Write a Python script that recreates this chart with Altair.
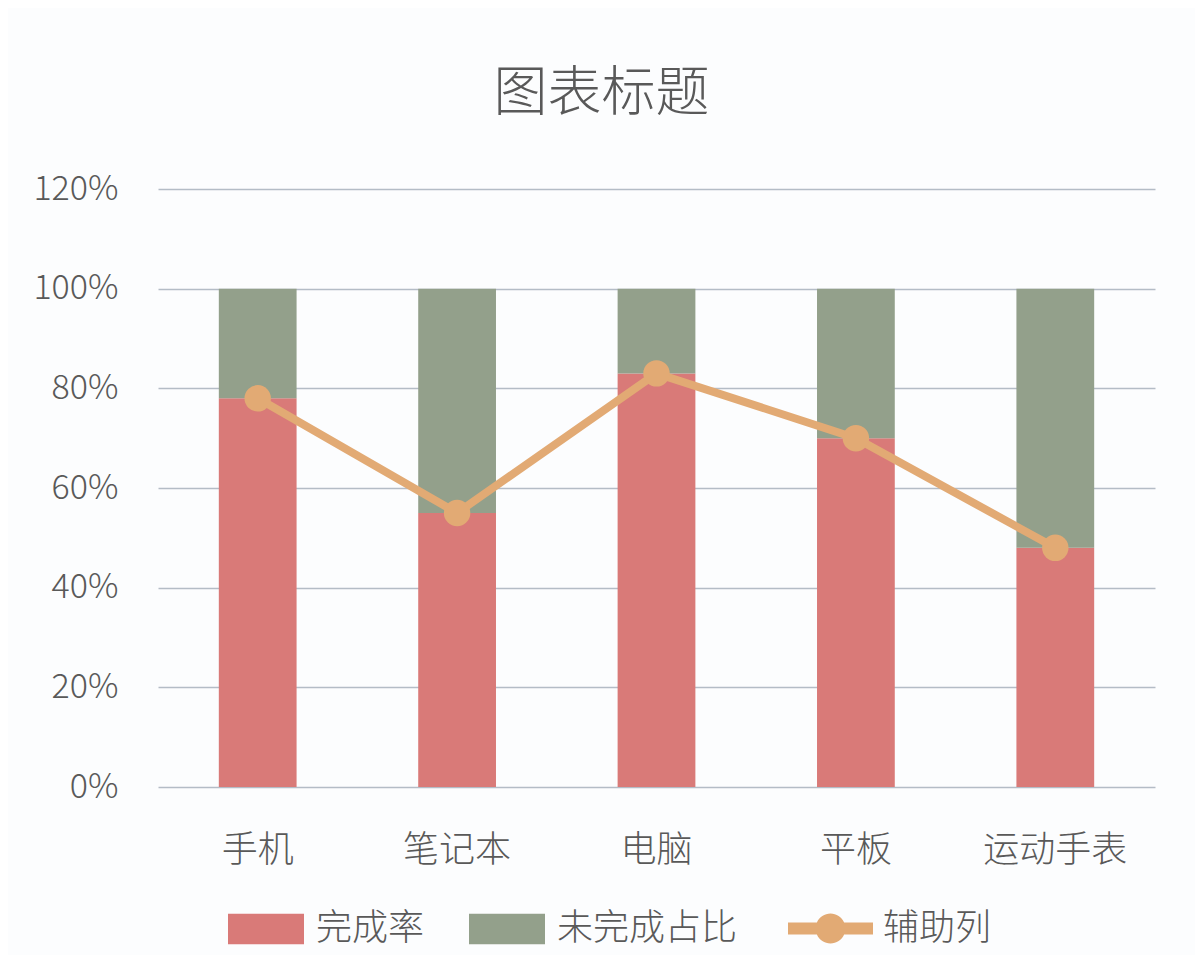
import altair as alt
import pandas as pd

categories = ["手机", "笔记本", "电脑", "平板", "运动手表"]
done_rate = [0.78, 0.55, 0.83, 0.70, 0.48]
undone_rate = [0.22, 0.45, 0.17, 0.30, 0.52]
helper = [0.78, 0.55, 0.83, 0.70, 0.48]
series_names = ["完成率", "未完成占比"]
line_name = "辅助列"
y_ticks = [0, 0.2, 0.4, 0.6, 0.8, 1.0, 1.2]

RED = "#d97a78"
GREEN = "#93a08b"
ORANGE = "#e2aa74"
TEXT = "#595959"
GRID = "#b4bcc6"
FONT = "Noto Sans CJK SC"

rows = []
for c, d, u in zip(categories, done_rate, undone_rate):
    rows.append({"cat": c, "series": series_names[0], "value": d, "ord": 0})
    rows.append({"cat": c, "series": series_names[1], "value": u, "ord": 1})
bar_df = pd.DataFrame(rows)
line_df = pd.DataFrame({"cat": categories, "value": helper, "s": [line_name] * len(categories)})

x_enc = alt.X(
    "cat:N", sort=categories, title=None,
    scale=alt.Scale(paddingInner=0.61, paddingOuter=0.305),
    axis=alt.Axis(labelAngle=0, labelFontSize=36, labelFont=FONT, labelFontWeight=300,
                  labelColor=TEXT, labelPadding=46, ticks=False, domain=False, grid=False),
)
y_enc = alt.Y(
    "value:Q", stack="zero", title=None,
    scale=alt.Scale(domain=[0, 1.2], nice=False),
    axis=alt.Axis(values=y_ticks, format=".0%", labelFontSize=34, labelFont=FONT,
                  labelFontWeight=300, labelColor=TEXT, labelPadding=40, ticks=False,
                  domain=False, grid=True, gridColor=GRID, gridWidth=1.5),
)

rect_path = "M-1,-0.4H1V0.4H-1Z"
line_path = ("M-1,-0.14H-0.3208A0.35,0.35 0 0 1 0.3208,-0.14H1V0.14H0.3208"
             "A0.35,0.35 0 0 1 -0.3208,0.14H-1Z")

bars = alt.Chart(bar_df).mark_bar().encode(
    x=x_enc,
    y=y_enc,
    color=alt.Color(
        "series:N",
        scale=alt.Scale(domain=series_names, range=[RED, GREEN]),
        legend=alt.Legend(
            title=None, orient="none", direction="horizontal", legendX=70, legendY=702,
            labelFontSize=36, labelFont=FONT, labelFontWeight=300, labelColor=TEXT,
            labelLimit=400, symbolType=rect_path, symbolSize=5776, symbolStrokeWidth=0,
            labelOffset=12, columnPadding=44,
        ),
    ),
    order=alt.Order("ord:Q"),
)

line = alt.Chart(line_df).mark_line(strokeWidth=8, color=ORANGE).encode(
    x=alt.X("cat:N", sort=categories),
    y=alt.Y("value:Q"),
)

points = alt.Chart(line_df).mark_circle(size=700, opacity=1).encode(
    x=alt.X("cat:N", sort=categories),
    y=alt.Y("value:Q"),
    fill=alt.Fill(
        "s:N",
        scale=alt.Scale(domain=[line_name], range=[ORANGE]),
        legend=alt.Legend(
            title=None, orient="none", direction="horizontal", legendX=630, legendY=697,
            labelFontSize=36, labelFont=FONT, labelFontWeight=300, labelColor=TEXT,
            labelLimit=400, symbolType=line_path, symbolSize=7225, symbolStrokeWidth=0,
            symbolOpacity=1, labelOffset=10,
        ),
    ),
)

chart = alt.layer(bars, line, points).properties(
    width=997,
    height=598,
    title=alt.TitleParams(
        "图表标题", fontSize=54, font=FONT, fontWeight=300, color=TEXT,
        anchor="middle", frame="group", dx=-55, offset=50,
    ),
    autosize=alt.AutoSizeParams(type="none"),
    padding={"left": 150, "top": 181, "right": 40, "bottom": 170},
    background="#fcfdfe",
).configure_view(stroke=None)

chart.save("out.html", embed_options={"renderer": "svg", "actions": False})
